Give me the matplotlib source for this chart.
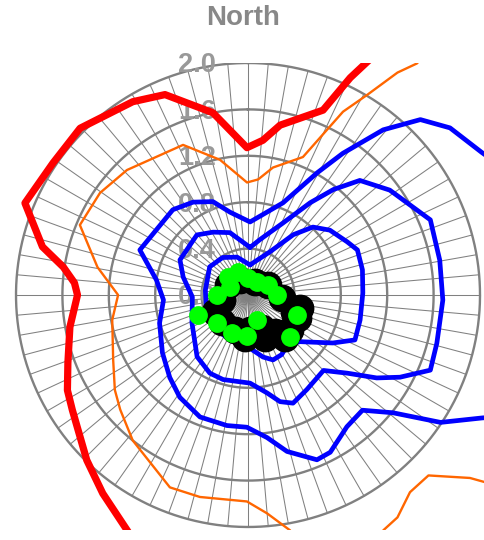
import numpy as np
import matplotlib.pyplot as plt

plt.rcParams['font.family'] = ['Liberation Sans', 'DejaVu Sans']

# contour lines: bearing (deg, clockwise from north) and radius
red_bearing = [28.3, 25.2, 22.1, 10.7, 5.5, 359.6, 349.1, 337.5, 329.2, 314.8, 304.1,
               292.4, 283.2, 278.6, 274.0, 270.0, 259.8, 249.3, 242.2, 236.8, 224.3,
               216.2, 207.2, 203.0]
red_radius = [2.40, 2.07, 1.72, 1.49, 1.34, 1.27, 1.60, 1.87, 1.94, 2.04, 2.03,
              2.08, 1.82, 1.61, 1.50, 1.47, 1.56, 1.66, 1.76, 1.81, 1.99,
              2.12, 2.28, 2.39]

orange_bearing = [36.6, 36.1, 33.9, 30.8, 27.4, 21.7, 11.1, 5.0, 359.5, 348.3, 336.6,
                  315.9, 304.6, 292.6, 280.5, 270.0, 259.6, 244.3, 234.5, 228.1, 218.4,
                  202.1, 193.4, 180.3, 175.0, 169.9, 167.4]
orange_radius = [2.63, 2.47, 2.31, 2.01, 1.78, 1.28, 1.12, 1.00, 0.97, 1.19, 1.41,
                 1.50, 1.55, 1.57, 1.32, 1.12, 1.19, 1.29, 1.41, 1.48, 1.60,
                 1.79, 1.79, 1.78, 1.89, 2.06, 2.25]

orange2_bearing = [153.0, 150.1, 146.1, 140.6, 135.0, 129.5, 127.2]
orange2_radius = [2.47, 2.34, 2.31, 2.20, 2.20, 2.48, 2.73]

blue1_bearing = [62.7, 58.6, 50.4, 44.5, 39.3, 33.8, 29.5, 20.8, 1.6, 347.8, 339.4,
                 329.4, 318.6, 292.6, 279.3, 266.6, 252.4, 236.0, 223.5, 213.7, 201.5,
                 189.2, 180.5, 172.4, 166.0, 157.3, 152.4, 143.1, 135.2, 129.1, 123.5,
                 117.7, 115.8]
blue1_radius = [2.44, 2.36, 2.26, 2.12, 1.84, 1.47, 1.21, 0.85, 0.63, 0.73, 0.86,
                0.93, 0.98, 1.01, 0.80, 0.73, 0.80, 0.89, 0.98, 1.06, 1.13,
                1.14, 1.14, 1.24, 1.39, 1.54, 1.53, 1.42, 1.40, 1.61, 1.99,
                2.28, 2.41]

blue2_bearing = [2.4, 12.3, 25.9, 34.0, 39.0, 44.3, 53.5, 67.6, 79.7, 91.5, 104.3,
                 112.4, 118.4, 122.8, 128.2, 135.0, 148.1, 157.4, 163.3, 169.0, 178.7,
                 196.4, 206.0, 219.5, 243.5, 268.0, 285.5, 297.3, 319.6, 330.9, 343.8,
                 358.8]
blue2_radius = [0.41, 0.49, 0.69, 0.96, 1.17, 1.38, 1.52, 1.70, 1.68, 1.68, 1.68,
                1.70, 1.49, 1.32, 1.09, 0.92, 0.96, 1.01, 0.96, 0.86, 0.76,
                0.76, 0.75, 0.69, 0.54, 0.48, 0.58, 0.66, 0.68, 0.62, 0.56,
                0.43]

blue3_bearing = [3.8, 27.1, 36.9, 43.7, 51.6, 61.8, 67.6, 77.6, 89.0, 102.6, 112.8,
                 119.5, 132.1, 142.1, 150.5, 158.9, 166.4, 177.9, 201.8, 221.5, 246.3,
                 276.6, 306.3, 325.9, 343.9]
blue3_radius = [0.26, 0.42, 0.65, 0.81, 0.90, 0.97, 1.02, 1.01, 0.99, 0.99, 1.00,
                0.84, 0.60, 0.55, 0.59, 0.60, 0.55, 0.46, 0.42, 0.40, 0.39,
                0.37, 0.41, 0.39, 0.34]

black_bearing = [259.1, 296.6, 331.9, 28.3, 63.4, 95.0, 104.0, 110.7, 114.7, 129.8,
                 139.3, 143.9, 158.4, 157.0, 176.8, 184.0, 200.4, 223.9, 242.7]
black_radius = [0.23, 0.19, 0.15, 0.13, 0.19, 0.29, 0.46, 0.42, 0.47, 0.47,
                0.49, 0.40, 0.40, 0.31, 0.30, 0.37, 0.32, 0.32, 0.32]

green_bearing = [248.2, 270.0, 294.0, 312.0, 336.5, 0.0, 34.7, 62.3, 90.0, 112.2,
                 135.0, 160.2, 181.5, 202.8, 228.0]
green_radius = [0.46, 0.27, 0.17, 0.23, 0.22, 0.15, 0.14, 0.19, 0.25, 0.46,
                0.51, 0.23, 0.35, 0.36, 0.36]

ring_values = [0.4, 0.8, 1.2, 1.6, 2.0]
label_values = [0.0, 0.4, 0.8, 1.2, 1.6, 2.0]
spoke_step = 5


def to_xy(bearing, radius, close=False):
    b = np.radians(np.asarray(bearing, dtype=float))
    r = np.asarray(radius, dtype=float)
    if close:
        b = np.append(b, b[0])
        r = np.append(r, r[0])
    return r * np.sin(b), r * np.cos(b)


fig = plt.figure(figsize=(4.85, 5.4), dpi=100)
ax = fig.add_axes([0, 10 / 540, 1, 467 / 540])
ax.set_xlim(-2.138, 2.043)
ax.set_ylim(-2.026, 2.0)
ax.axis('off')

grid_col = '#808080'
rmax = ring_values[-1]

# spokes
for a in np.radians(np.arange(0, 360, spoke_step)):
    ax.plot([0, rmax * np.sin(a)], [0, rmax * np.cos(a)], color=grid_col, lw=0.75, zorder=1)

# rings
t = np.linspace(0, 2 * np.pi, 400)
for rv in ring_values:
    ax.plot(rv * np.sin(t), rv * np.cos(t), color=grid_col, lw=1.7, zorder=2)

for lv in label_values:
    ax.text(-0.44, lv - 0.02, f"{lv:.1f}", ha='center', va='center', fontsize=19.5,
            fontweight='bold', color='#999999', zorder=3)

kw = dict(solid_joinstyle='round', solid_capstyle='round')
x, y = to_xy(red_bearing, red_radius)
ax.plot(x, y, color='#ff0000', lw=5.2, zorder=4, **kw)
x, y = to_xy(orange_bearing, orange_radius)
ax.plot(x, y, color='#ff6600', lw=1.7, zorder=4, **kw)
x, y = to_xy(orange2_bearing, orange2_radius)
ax.plot(x, y, color='#ff6600', lw=1.7, zorder=4, **kw)
x, y = to_xy(blue1_bearing, blue1_radius)
ax.plot(x, y, color='#0000ff', lw=3.4, zorder=4, **kw)
x, y = to_xy(blue2_bearing, blue2_radius, close=True)
ax.plot(x, y, color='#0000ff', lw=3.4, zorder=4, **kw)
x, y = to_xy(blue3_bearing, blue3_radius, close=True)
ax.plot(x, y, color='#0000ff', lw=3.4, zorder=4, **kw)

x, y = to_xy(black_bearing, black_radius)
ax.plot(x, y, 'o', color='black', ms=19, mec='black', zorder=5)
x, y = to_xy(green_bearing, green_radius)
ax.plot(x, y, 'o', color='#00ff00', ms=12.5, mec='#00ff00', zorder=6)

fig.text(243.5 / 485, 1 - 18 / 540, "North", ha='center', va='center', fontsize=20,
         fontweight='bold', color='#888888')

fig.savefig('out.png', dpi=100)
